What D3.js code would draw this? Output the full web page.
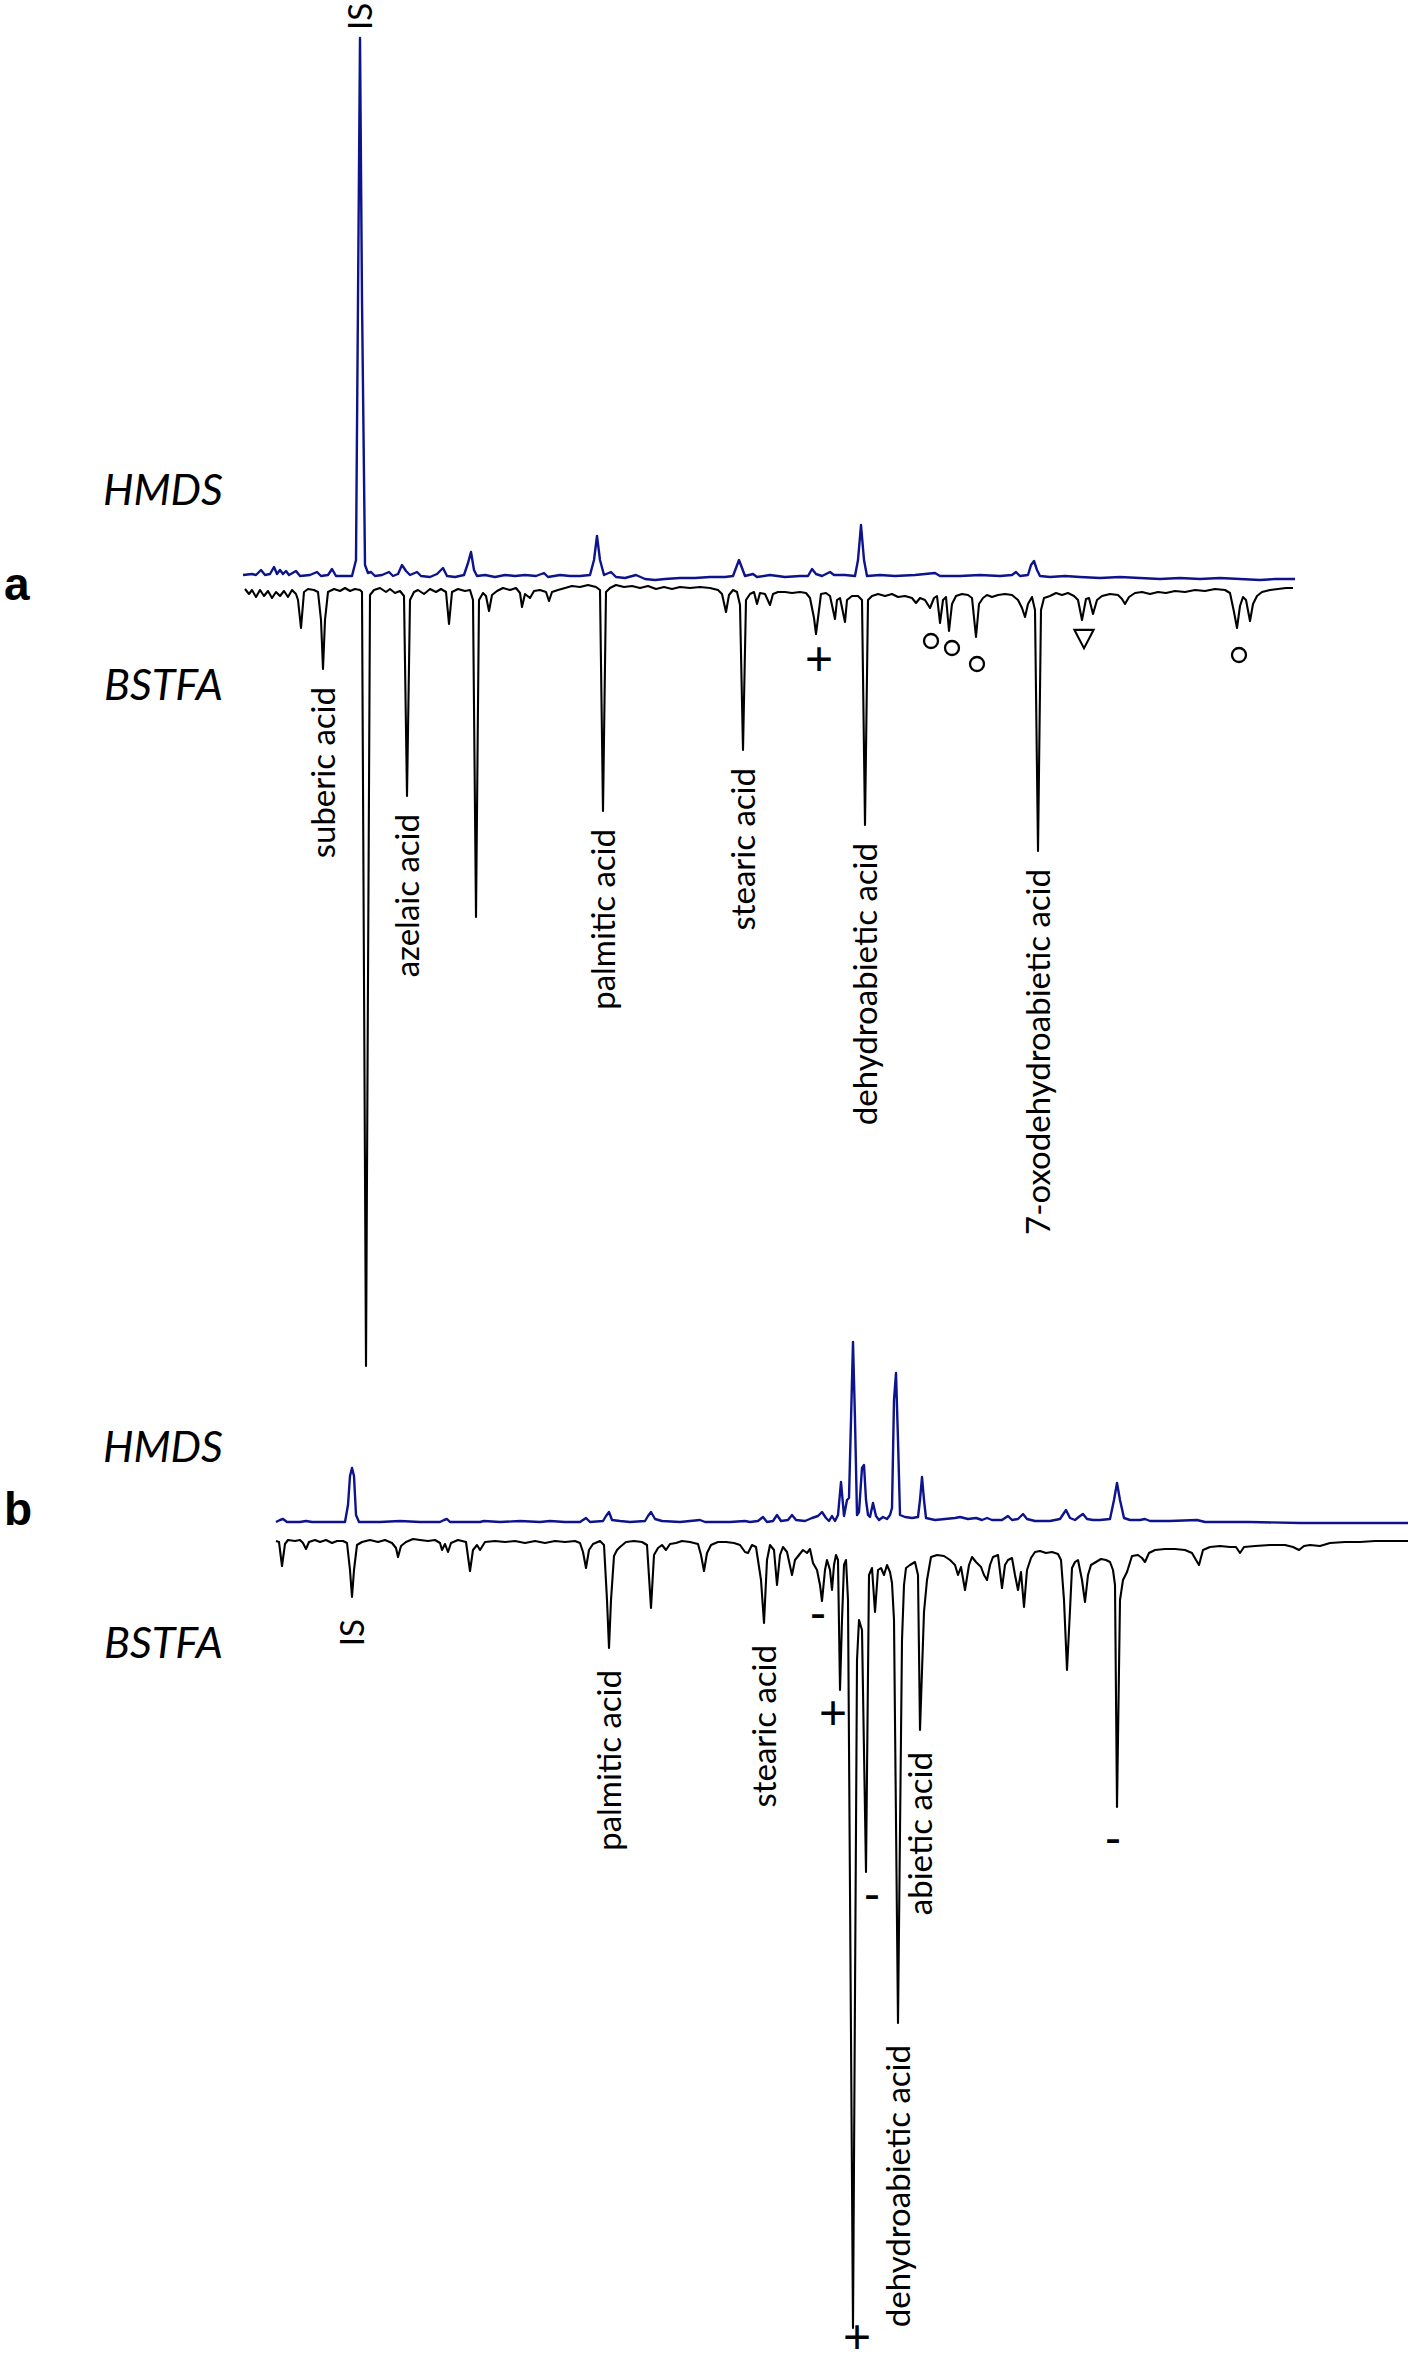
<!DOCTYPE html>
<html>
<head>
<meta charset="utf-8">
<script src="https://cdn.jsdelivr.net/npm/d3@7"></script>
<style>
    body { margin: 0; background: #fff; }
    svg { display: block; }
    .peak-label { font-family: Lato, "Open Sans", sans-serif; font-size: 33px; fill: #000; }
    .reagent { font-family: Lato, "Open Sans", sans-serif; font-style: italic; font-size: 43px; fill: #000; }
    .panel-tag { font-family: "Liberation Sans", Arial, sans-serif; font-weight: bold; font-size: 46px; fill: #000; }
    .mark { font-family: "Liberation Sans", Arial, sans-serif; font-size: 48px; fill: #000; }
</style>
</head>
<body>
<svg id="chart"></svg>
<script>
// [scan, abundance]; HMDS drawn upward, BSTFA mirrored downward
const hmdsA = [[0,1],[9,2],[13,1],[18,6],[22,1],[27,2],[31,9],[34,2],[37,6],[40,2],[43,5],[46,1],[53,5],[57,0],[67,1],[74,4],[78,0],[85,1],[89,7],[93,0],[105,0],[109,0],[113,16],[115,276],[117,538],[119,276],[122,11],[125,3],[128,4],[132,0],[139,1],[146,4],[150,0],[155,2],[159,11],[163,5],[167,1],[174,4],[178,0],[187,-1],[194,2],[200,8],[204,0],[212,-1],[221,1],[225,13],[228,24],[231,6],[234,0],[242,1],[252,-1],[262,1],[272,0],[282,1],[293,0],[301,3],[305,-1],[317,1],[327,0],[337,0],[347,1],[351,16],[354,40],[357,16],[361,1],[368,4],[373,-1],[382,-2],[393,1],[402,-3],[412,-4],[422,-3],[437,-2],[452,-2],[467,-1],[482,-1],[490,0],[493,8],[496,16],[499,8],[502,0],[510,2],[514,-1],[527,1],[542,-1],[557,0],[565,0],[569,7],[573,2],[579,0],[587,4],[591,1],[602,1],[612,0],[615,16],[618,51],[621,16],[624,0],[637,1],[652,0],[672,1],[692,3],[697,0],[717,0],[737,1],[757,0],[769,1],[773,4],[777,0],[785,1],[788,11],[791,15],[794,6],[797,0],[807,-1],[822,0],[837,-1],[857,-2],[877,-1],[897,-2],[917,-3],[937,-2],[957,-3],[977,-2],[997,-3],[1017,-4],[1032,-3],[1052,-3]];

const bstfaA = [[2,1],[6,6],[9,2],[13,9],[17,2],[21,8],[25,3],[29,10],[33,4],[37,8],[41,3],[45,9],[49,2],[53,6],[55,12],[58,40],[61,4],[65,1],[71,2],[75,4],[78,32],[80,81],[82,32],[85,4],[91,1],[97,3],[102,0],[107,3],[112,1],[117,2],[119,4],[123,778],[127,7],[131,2],[137,0],[143,4],[147,1],[152,5],[157,3],[161,8],[164,208],[167,12],[171,4],[175,2],[181,6],[187,1],[193,4],[198,1],[203,4],[206,36],[209,4],[215,1],[222,3],[227,2],[230,12],[233,329],[236,12],[240,5],[243,8],[246,23],[249,7],[254,3],[260,0],[267,2],[273,0],[277,5],[279,19],[282,6],[287,10],[291,3],[297,2],[303,4],[306,13],[309,4],[315,2],[322,0],[329,-2],[337,-1],[345,-3],[353,-1],[357,2],[360,223],[363,4],[367,0],[373,-3],[381,-1],[389,-2],[397,0],[405,-2],[413,1],[421,-1],[429,1],[437,-1],[447,0],[457,-1],[467,0],[475,2],[479,6],[483,24],[486,7],[490,2],[494,4],[497,17],[500,162],[503,12],[507,6],[511,4],[514,16],[517,5],[522,6],[527,17],[530,6],[535,4],[542,4],[549,5],[557,4],[563,5],[567,10],[571,30],[573,46],[575,30],[578,6],[583,5],[587,8],[592,31],[594,12],[597,10],[602,34],[604,12],[609,8],[615,8],[619,12],[622,237],[625,12],[629,8],[635,6],[642,8],[649,6],[655,9],[662,8],[669,10],[673,15],[677,10],[682,12],[687,20],[691,10],[694,8],[697,35],[700,12],[703,9],[706,43],[709,16],[713,8],[719,6],[725,7],[729,10],[733,49],[736,16],[740,10],[744,7],[749,9],[755,7],[762,6],[769,7],[775,12],[779,20],[782,29],[785,16],[789,9],[792,22],[795,263],[798,22],[801,10],[807,8],[813,5],[819,7],[825,5],[831,8],[835,12],[839,32],[843,11],[846,10],[850,26],[854,12],[859,8],[867,6],[875,7],[879,11],[882,16],[886,9],[892,5],[899,4],[907,6],[915,4],[923,5],[932,3],[942,4],[952,2],[962,3],[972,1],[982,2],[987,5],[991,24],[994,40],[997,18],[1000,9],[1003,12],[1007,33],[1010,16],[1014,8],[1019,4],[1027,2],[1035,1],[1043,0],[1050,0]];

const hmdsB = [[0,0],[4,2],[7,3],[11,0],[24,0],[30,1],[36,0],[54,0],[69,0],[72,17],[74,46],[76,54],[78,46],[80,7],[83,0],[104,0],[124,1],[144,0],[164,0],[168,2],[171,3],[174,0],[204,0],[208,1],[224,0],[244,1],[264,0],[274,1],[289,0],[304,0],[310,4],[314,0],[327,1],[330,6],[333,10],[336,2],[344,1],[354,0],[369,1],[372,6],[375,10],[379,3],[386,1],[404,0],[424,2],[429,0],[454,0],[469,1],[474,0],[482,1],[487,5],[491,0],[497,1],[501,7],[505,1],[512,2],[516,7],[520,2],[529,1],[536,4],[542,6],[546,10],[550,4],[553,1],[556,6],[559,1],[562,7],[565,40],[568,6],[571,22],[573,24],[575,102],[577,180],[579,102],[581,7],[583,10],[586,54],[588,57],[590,22],[592,7],[594,5],[597,19],[600,6],[603,2],[607,5],[611,3],[614,7],[616,14],[618,122],[620,149],[622,82],[624,7],[629,5],[636,4],[642,5],[644,22],[646,45],[648,22],[650,4],[659,2],[669,3],[679,4],[684,5],[692,3],[700,4],[706,2],[711,4],[716,2],[726,2],[732,6],[736,2],[742,3],[747,8],[751,3],[759,1],[774,1],[784,3],[788,9],[790,12],[794,4],[799,2],[804,6],[807,8],[811,3],[817,2],[824,2],[834,3],[838,22],[841,39],[844,22],[848,4],[854,2],[864,2],[869,3],[874,1],[894,1],[921,2],[929,0],[974,0],[1024,-1],[1074,-1],[1132,-1]];

const bstfaB = [[0,1],[3,2],[6,26],[9,4],[12,0],[19,1],[24,0],[27,3],[30,9],[33,2],[39,0],[44,2],[50,0],[56,3],[61,1],[67,1],[71,3],[74,30],[76,57],[78,30],[81,5],[86,2],[94,0],[102,2],[109,0],[116,3],[120,8],[122,17],[125,6],[130,2],[137,-1],[144,0],[152,1],[159,0],[164,3],[166,10],[169,4],[172,12],[175,3],[182,0],[190,2],[194,31],[197,10],[201,5],[204,10],[209,2],[219,1],[229,2],[239,1],[249,3],[259,1],[269,3],[279,1],[289,2],[299,1],[304,3],[307,12],[310,28],[313,10],[317,4],[324,1],[328,5],[331,60],[333,108],[335,60],[338,16],[341,10],[344,7],[350,2],[358,1],[366,2],[371,5],[375,68],[378,15],[382,8],[386,5],[390,10],[394,4],[400,3],[406,1],[414,2],[422,4],[425,15],[428,31],[431,13],[435,5],[442,2],[450,2],[458,3],[464,5],[469,12],[472,13],[476,5],[480,7],[485,40],[488,83],[491,20],[494,5],[498,10],[501,45],[504,15],[507,7],[511,12],[516,35],[519,20],[523,15],[527,10],[531,13],[534,9],[537,23],[541,30],[544,45],[546,61],[549,30],[551,20],[554,30],[556,50],[558,25],[560,15],[562,20],[564,150],[566,80],[568,25],[570,20],[572,60],[577,788],[581,120],[583,80],[586,90],[590,332],[593,35],[596,28],[599,72],[602,30],[605,28],[608,35],[611,25],[614,32],[616,43],[618,80],[622,483],[626,100],[628,45],[630,28],[634,25],[639,22],[642,35],[644,190],[648,72],[651,40],[655,17],[661,15],[668,16],[674,20],[679,25],[682,35],[685,27],[689,50],[693,25],[696,17],[700,22],[705,27],[708,35],[711,40],[714,25],[717,17],[722,15],[726,48],[729,25],[732,20],[736,18],[739,35],[742,50],[745,32],[748,67],[751,30],[755,18],[759,12],[764,11],[770,13],[776,12],[782,14],[785,20],[788,60],[791,130],[794,70],[796,28],[799,22],[802,20],[806,40],[809,62],[812,35],[815,25],[820,22],[825,19],[830,20],[834,22],[837,30],[839,45],[841,267],[844,60],[847,40],[851,32],[856,16],[862,15],[866,18],[869,22],[873,13],[879,10],[889,9],[899,9],[909,10],[916,13],[920,20],[923,25],[927,10],[934,7],[944,6],[954,7],[960,7],[964,13],[968,7],[979,6],[994,5],[1009,5],[1017,7],[1023,10],[1028,6],[1034,5],[1044,6],[1054,3],[1069,2],[1084,2],[1099,1],[1114,1],[1132,1]];

// peak names (scan of the peak they hang from)
const peaksA = [
    { scan: 80, name: "suberic acid" },
    { scan: 164, name: "azelaic acid" },
    { scan: 360, name: "palmitic acid" },
    { scan: 500, name: "stearic acid" },
    { scan: 622, name: "dehydroabietic acid" },
    { scan: 795, name: "7-oxodehydroabietic acid" }
];
const topPeaksA = [{ scan: 117, name: "IS" }];
const peaksB = [
    { scan: 76, name: "IS" },
    { scan: 333, name: "palmitic acid" },
    { scan: 488, name: "stearic acid" },
    { scan: 644, name: "abietic acid" },
    { scan: 622, name: "dehydroabietic acid" }
];

// symbols under peaks: [scan, depth, mark]
const marksA = [[576, 70, "+"], [688, 53, "o"], [709, 60, "o"], [734, 76, "o"], [841, 48, "v"], [996, 67, "o"]];
const marksB = [[542, 72, "-"], [557, 172, "+"], [596, 353, "-"], [581, 796, "+"], [837, 297, "-"]];

const reagents = ["HMDS", "BSTFA"];
const panelNames = ["a", "b"];

class MirrorChromatogram {
    constructor(svg, opts) {
        this.svg = svg;
        this.opts = opts;
    }

    initialize() {
        const o = this.opts;
        this.g = this.svg.append("g");
        this.x = d3.scaleLinear().domain(o.scanDomain).range(o.xRange);
        this.yUp = d3.scaleLinear().domain(o.upDomain).range(o.upRange);
        this.yDown = d3.scaleLinear().domain(o.downDomain).range(o.downRange);
    }

    apex(trace, scan) {
        return d3.max(trace.filter(d => Math.abs(d[0] - scan) <= 2), d => d[1]);
    }

    draw() {
        const o = this.opts;
        const up = d3.line().x(d => this.x(d[0])).y(d => this.yUp(d[1]));
        const down = d3.line().x(d => this.x(d[0])).y(d => this.yDown(d[1]));

        this.g.append("path")
            .datum(o.bstfa)
            .attr("d", down)
            .attr("fill", "none")
            .attr("stroke", "#000")
            .attr("stroke-width", 2.1)
            .attr("stroke-linejoin", "round");

        this.g.append("path")
            .datum(o.hmds)
            .attr("d", up)
            .attr("fill", "none")
            .attr("stroke", "#0c138c")
            .attr("stroke-width", 2.4)
            .attr("stroke-linejoin", "round");

        // names under the BSTFA peaks
        this.g.selectAll(".down-label")
            .data(o.peaks)
            .join("text")
            .attr("class", "peak-label down-label")
            .attr("transform", d => `translate(${this.x(d.scan)}, ${this.yDown(this.apex(o.bstfa, d.scan)) + o.gap}) rotate(-90)`)
            .attr("text-anchor", "end")
            .attr("dy", "0.36em")
            .text(d => d.name);

        this.g.selectAll(".up-label")
            .data(o.topPeaks)
            .join("text")
            .attr("class", "peak-label up-label")
            .attr("transform", d => `translate(${this.x(d.scan)}, ${this.yUp(this.apex(o.hmds, d.scan)) - 8}) rotate(-90)`)
            .attr("text-anchor", "start")
            .attr("dy", "0.36em")
            .text(d => d.name);

        const marks = this.g.selectAll(".marker")
            .data(o.marks)
            .join("g")
            .attr("class", "marker")
            .attr("transform", d => `translate(${this.x(d[0])}, ${this.yDown(d[1])})`);

        marks.filter(d => d[2] === "o")
            .append("circle")
            .attr("r", 7)
            .attr("fill", "none")
            .attr("stroke", "#000")
            .attr("stroke-width", 2.3);

        marks.filter(d => d[2] === "v")
            .append("path")
            .attr("d", d3.symbol(d3.symbolTriangle, 160))
            .attr("transform", "rotate(180) scale(1, 1.1)")
            .attr("fill", "none")
            .attr("stroke", "#000")
            .attr("stroke-width", 2);

        marks.filter(d => d[2] === "+" || d[2] === "-")
            .append("text")
            .attr("class", "mark")
            .attr("text-anchor", "middle")
            .attr("dominant-baseline", "central")
            .text(d => d[2]);

        // reagent names and panel letter
        this.g.append("text").attr("class", "reagent")
            .attr("x", 103).attr("y", o.hmdsY).text(reagents[0]);
        this.g.append("text").attr("class", "reagent")
            .attr("x", 104).attr("y", o.bstfaY).text(reagents[1]);
        this.g.append("text").attr("class", "panel-tag")
            .attr("x", 4).attr("y", o.tagY).text(o.tag);
    }
}

const svg = d3.select("#chart").attr("width", 1414).attr("height", 2362);

const panelA = new MirrorChromatogram(svg, {
    hmds: hmdsA, bstfa: bstfaA, peaks: peaksA, topPeaks: topPeaksA, marks: marksA,
    scanDomain: [0, 1050], xRange: [243, 1293],
    upDomain: [0, 538], upRange: [576, 38],
    downDomain: [0, 778], downRange: [588, 1366],
    gap: 18, hmdsY: 505, bstfaY: 700, tagY: 600, tag: panelNames[0]
});
panelA.initialize();
panelA.draw();

const panelB = new MirrorChromatogram(svg, {
    hmds: hmdsB, bstfa: bstfaB, peaks: peaksB, topPeaks: [], marks: marksB,
    scanDomain: [0, 1132], xRange: [276, 1408],
    upDomain: [0, 180], upRange: [1522, 1342],
    downDomain: [0, 788], downRange: [1540, 2328],
    gap: 22, hmdsY: 1462, bstfaY: 1658, tagY: 1525, tag: panelNames[1]
});
panelB.initialize();
panelB.draw();
</script>
</body>
</html>
